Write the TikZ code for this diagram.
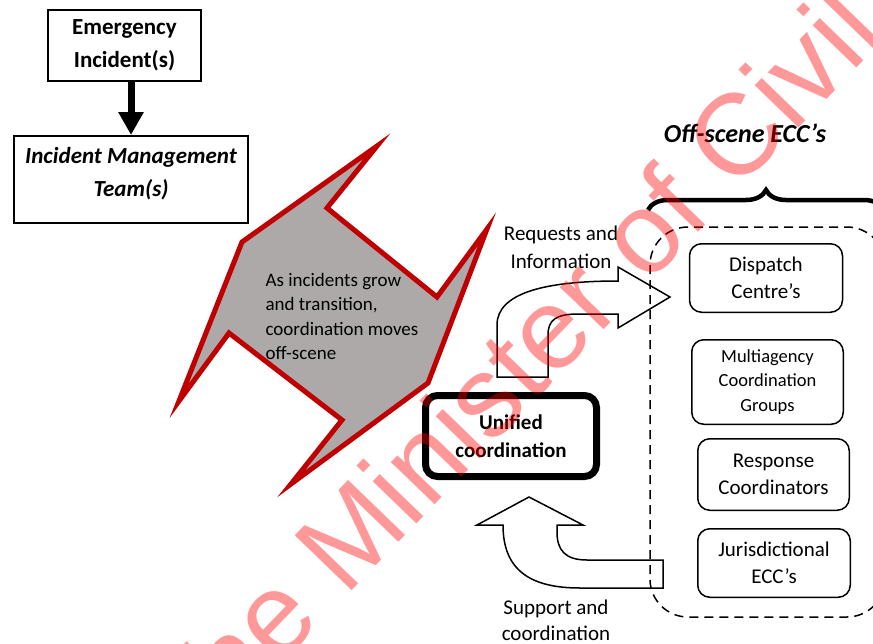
\documentclass[tikz,border=0pt]{standalone}
\usepackage{fontspec}
\setmainfont{Carlito}
\newfontfamily\markfont{Liberation Sans}
\usetikzlibrary{arrows.meta,decorations.pathreplacing}
\definecolor{darkred}{RGB}{192,0,0}
\definecolor{shapegray}{RGB}{173,169,169}

\begin{document}
\begin{tikzpicture}[x=1pt, y=-1pt,
    topbox/.style={draw, line width=2pt, inner sep=0pt, align=center, font=\fontsize{23}{33}\selectfont\bfseries},
    eccbox/.style={draw, line width=1.5pt, rounded corners=12pt, inner sep=0pt, align=center, font=\fontsize{21}{27}\selectfont},
    blockarrow/.style={draw, line width=1.5pt, line join=miter},
    caption/.style={align=center, font=\fontsize{21}{28}\selectfont}]
    \useasboundingbox (0,0) rectangle (873,643);
    \clip (0,0) rectangle (873,643);

    % Incident side
    \node[topbox, minimum width=153pt, minimum height=71pt] (emerg) at (124.5,45.5) {Emergency\\Incident(s)};
    \node[topbox, minimum width=234pt, minimum height=87pt] (imt) at (131,179.5) {};
    \node[font=\fontsize{23}{33}\selectfont\bfseries\itshape, align=center] (imttext) at ([yshift=6pt]imt.center) {Incident Management\\Team(s)};
    \draw[line width=7pt, -{Triangle[length=23pt,width=24pt]}] (imt.north |- emerg.south) -- (imt.north);

    % Transition shape
    \draw[draw=darkred, fill=shapegray, line width=5pt, line join=miter] (242,242) -- (377,146) -- (327,208) -- (437,297) -- (487,229) -- (428,383) -- (291,484) -- (342,420) -- (229,333) -- (179,401) -- cycle;
    \node[anchor=west, align=left, font=\fontsize{19}{24.5}\selectfont] (growtext) at (262,316.5) {As incidents grow\\and transition,\\coordination moves\\off-scene};

    % Unified coordination
    \node[draw, line width=7pt, rounded corners=12pt, minimum width=171pt, minimum height=81pt, inner sep=0pt, align=center, font=\fontsize{21}{28}\selectfont\bfseries] (unified) at (511,436) {Unified\\coordination};

    % Off-scene ECC's
    \draw[line width=1.5pt, dash pattern=on 9pt off 6pt, rounded corners=38pt] (650,227) rectangle (885,617);
    \draw[line width=4.5pt, decorate, decoration={brace, amplitude=20pt}] (648,210) -- (884,210);
    \node[font=\fontsize{26}{30}\selectfont\bfseries\itshape] (offscene) at (745,133) {Off-scene ECC’s};
    \node[eccbox, minimum width=153pt, minimum height=68.5pt] (dispatch) at (766,278) {Dispatch\\Centre’s};
    \node[eccbox, minimum width=151.5pt, minimum height=84.5pt, font=\fontsize{18.5}{24.5}\selectfont] (mcg) at (767.5,382) {Multiagency\\Coordination\\Groups};
    \node[eccbox, minimum width=151.5pt, minimum height=71.5pt] (respond) at (773.5,474.5) {Response\\Coordinators};
    \node[eccbox, minimum width=152.5pt, minimum height=68.5pt] (juris) at (774,563) {Jurisdictional\\ECC’s};

    % Block arrows
    \draw[blockarrow] (497,377) -- (497,325) .. controls (497,293) and (545,281) .. (618,281) -- (618,267) -- (670,297) -- (618,328) -- (618,314) -- (578,314) .. controls (556,314) and (548,320) .. (548,335) -- (548,377) -- cycle;
    \node[caption] (requests) at (561,247.5) {Requests and\\Information};
    \draw[blockarrow] (663,560) -- (587,560) .. controls (565,560) and (557,550) .. (557,532) -- (557,525) -- (583,525) -- (529,497) -- (477,525) -- (503,525) .. controls (503,570) and (530,588) .. (580,588) -- (663,588) -- cycle;
    \node[caption, font=\fontsize{21}{26}\selectfont] (support) at (556,620) {Support and\\coordination};

    % Watermark
    \node[font=\markfont\fontsize{115}{115}\selectfont, text=red, text opacity=0.4, rotate=46, anchor=base west, inner sep=0pt] (mark) at (212,736) {the Minister of Civil};
\end{tikzpicture}
\end{document}
